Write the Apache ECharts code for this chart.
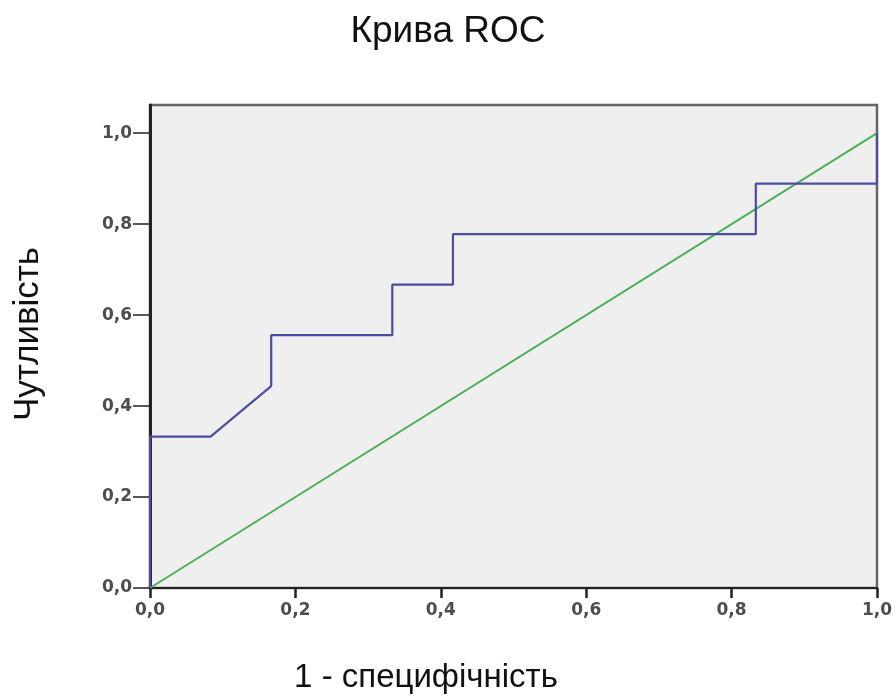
<!DOCTYPE html>
<html>
<head>
<meta charset="utf-8">
<script src="https://cdn.jsdelivr.net/npm/echarts@6/dist/echarts.min.js"></script>
<style>
  html, body { margin: 0; padding: 0; background: #ffffff; }
  #chart { width: 896px; height: 699px; }
</style>
</head>
<body>
<div id="chart"></div>
<script>
// ROC curve points: false positive rate (1 - specificity) and sensitivity
const fpr = [0, 0, 0.0833, 0.1667, 0.1667, 0.3333, 0.3333, 0.4167, 0.4167, 0.8333, 0.8333, 1.0, 1.0];
const tpr = [0, 0.333, 0.333, 0.444, 0.556, 0.556, 0.667, 0.667, 0.778, 0.778, 0.889, 0.889, 1.0];
// Reference diagonal
const refX = [0, 1];
const refY = [0, 1];
const tickValues = [0, 0.2, 0.4, 0.6, 0.8, 1.0];

const fmt = v => v.toFixed(1).replace('.', ',');
const tickFont = { fontFamily: 'DejaVu Sans, sans-serif', fontSize: 17, fontWeight: 'bold', color: '#4d4d4d' };
const chart = echarts.init(document.getElementById('chart'));

chart.setOption({
  animation: false,
  backgroundColor: '#ffffff',
  title: {
    text: 'Крива ROC',
    left: 'center',
    top: 8,
    textStyle: { fontFamily: 'Liberation Sans, Arial, sans-serif', fontSize: 37, fontWeight: 'normal', color: '#111' }
  },
  graphic: [
    {
      type: 'text',
      x: 426,
      y: 678,
      style: {
        text: '1 - специфічність',
        font: '33px "Liberation Sans", Arial, sans-serif',
        fill: '#111',
        align: 'center',
        verticalAlign: 'middle'
      }
    },
    {
      type: 'text',
      x: 28,
      y: 334,
      rotation: Math.PI / 2,
      style: {
        text: 'Чутливість',
        font: '35px "Liberation Sans", Arial, sans-serif',
        fill: '#111',
        align: 'center',
        verticalAlign: 'middle'
      }
    }
  ],
  grid: {
    left: 150, top: 105, right: 19, bottom: 111,
    show: true,
    backgroundColor: '#efefef',
    borderColor: '#666',
    borderWidth: 2.5
  },
  xAxis: {
    type: 'value',
    min: 0, max: 1, interval: 0.2,
    axisLine: { show: true, onZero: false, lineStyle: { color: '#222', width: 2 } },
    axisTick: { show: true, length: 10, lineStyle: { color: '#222', width: 2.5 } },
    axisLabel: Object.assign({ formatter: fmt, margin: 14 }, tickFont),
    splitLine: { show: false }
  },
  yAxis: {
    type: 'value',
    min: 0, max: 1.062, interval: 0.2,
    axisLine: { show: true, onZero: false, lineStyle: { color: '#222', width: 3 } },
    axisTick: { show: true, length: 17, customValues: tickValues, lineStyle: { color: '#222', width: 1.5 } },
    axisLabel: Object.assign({ customValues: tickValues, formatter: fmt, margin: 18 }, tickFont),
    splitLine: { show: false }
  },
  series: [
    {
      type: 'line',
      data: refX.map((x, i) => [x, refY[i]]),
      showSymbol: false,
      lineStyle: { color: '#4caf5a', width: 2 },
      z: 2
    },
    {
      type: 'line',
      data: fpr.map((x, i) => [x, tpr[i]]),
      showSymbol: false,
      lineStyle: { color: '#4a4fa0', width: 2.2 },
      z: 3
    }
  ]
});
</script>
</body>
</html>
